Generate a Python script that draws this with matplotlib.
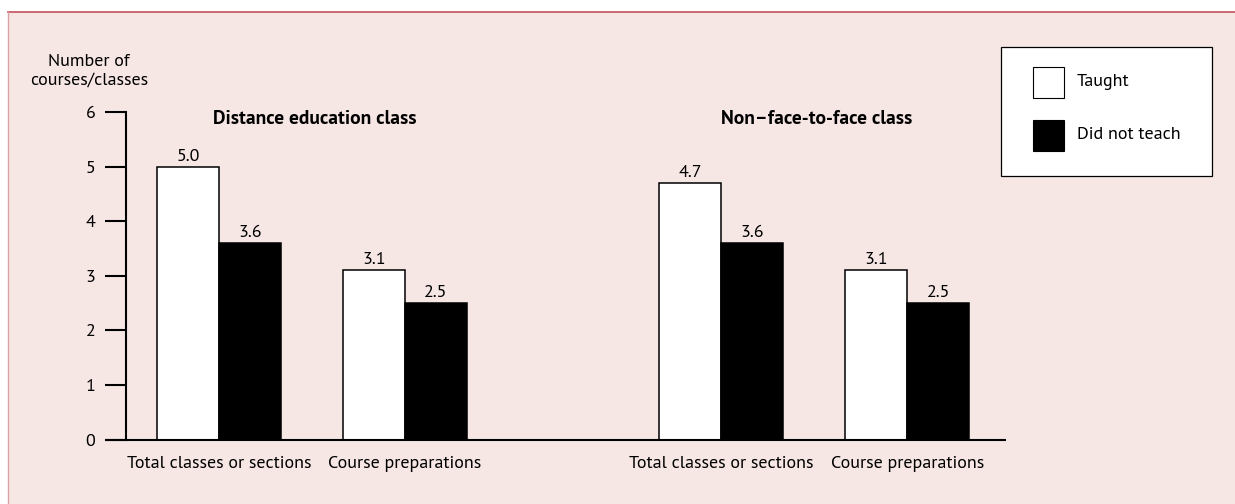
import matplotlib
matplotlib.use("Agg")
import matplotlib.pyplot as plt
from matplotlib.patches import Rectangle
from matplotlib.lines import Line2D

# datos
grupos = ["Distance education class", "Non\u2013face-to-face class"]
categorias = ["Total classes or sections", "Course preparations"]
series = ["Taught", "Did not teach"]
taught = [5.0, 3.1, 4.7, 3.1]
did_not_teach = [3.6, 2.5, 3.6, 2.5]

plt.rcParams["font.family"] = ["PT Sans", "DejaVu Sans"]
FS = 13
ROSA, BORDE = "#f6e7e4", "#c4525c"

W, H = 1235, 504
fig = plt.figure(figsize=(W / 100, H / 100), dpi=100)

# panel rosa con el borde rojo arriba (detras de los ejes)
fig.patches.append(Rectangle((8 / W, 0), 1, (H - 12) / H, transform=fig.transFigure,
                             facecolor=ROSA, edgecolor="none", zorder=-10))
fig.add_artist(Line2D([8 / W, 1], [(H - 12) / H] * 2, color=BORDE, lw=1.2, zorder=-9))
fig.add_artist(Line2D([8 / W] * 2, [0, (H - 12) / H], color="#dba0a5", lw=1.0, zorder=-9))

# ejes: x 126..1006 px, y0=439.5, y6=112
ax = fig.add_axes([126 / W, (H - 439.5) / H, 880 / W, 327.5 / H])
ax.set_facecolor("none")

ancho = 1.0
sep_cat, sep_grupo = 3.0, 8.1
pos = [g * sep_grupo + c * sep_cat for g in range(len(grupos)) for c in range(len(categorias))]
x_t = [p - ancho / 2 for p in pos]
x_n = [p + ancho / 2 for p in pos]

ax.bar(x_t, taught, ancho, color="white", edgecolor="black", lw=1.1, zorder=2)
ax.bar(x_n, did_not_teach, ancho, color="black", edgecolor="black", lw=1.1, zorder=2)
for xs, vals in ((x_t, taught), (x_n, did_not_teach)):
    for xi, v in zip(xs, vals):
        ax.annotate(f"{v:.1f}", (xi, v), xytext=(0, 6), textcoords="offset pixels",
                    ha="center", va="baseline", fontsize=FS)

# titulo de cada grupo, centrado sobre sus dos pares de barras
n_cat = len(categorias)
for g, nombre in enumerate(grupos):
    centro = sum(pos[g * n_cat:(g + 1) * n_cat]) / n_cat
    ax.text(centro + 0.04, 5.87, nombre, ha="center", va="center",
            fontsize=14, fontweight="bold")

ax.set_xlim(-1.5, 12.69)
ax.set_ylim(0, 6)
ax.set_yticks(range(0, 7))
ax.tick_params(axis="y", direction="out", length=15, width=1.5, pad=7, labelsize=FS)
ax.set_xticks(pos)
ax.set_xticklabels(categorias * len(grupos), fontsize=FS)
ax.tick_params(axis="x", length=0, pad=12)
for s in ("top", "right", "bottom"):
    ax.spines[s].set_visible(False)
ax.spines["left"].set_linewidth(1.5)
ax.plot([-21 / 880, 1], [0, 0], transform=ax.get_yaxis_transform(), color="black",
        lw=1.5, clip_on=False, zorder=3, solid_capstyle="butt")

fig.text(89 / W, 1 - 71 / H, "Number of\ncourses/classes", ha="center", va="center",
         fontsize=FS, linespacing=1.25)

# leyenda dibujada a mano
fig.patches.append(Rectangle((1001 / W, 1 - 176 / H), 211 / W, 129 / H,
                             transform=fig.transFigure, facecolor="white",
                             edgecolor="black", lw=0.9))
for i, (nombre, col) in enumerate(zip(series, ["white", "black"])):
    yc = 82 + i * 53
    fig.patches.append(Rectangle((1033 / W, 1 - (yc + 15.5) / H), 31 / W, 31 / H,
                                 transform=fig.transFigure, facecolor=col,
                                 edgecolor="black", lw=0.8))
    fig.text(1077 / W, 1 - yc / H, nombre, ha="left", va="center", fontsize=FS)

fig.savefig("out.png", dpi=100)
